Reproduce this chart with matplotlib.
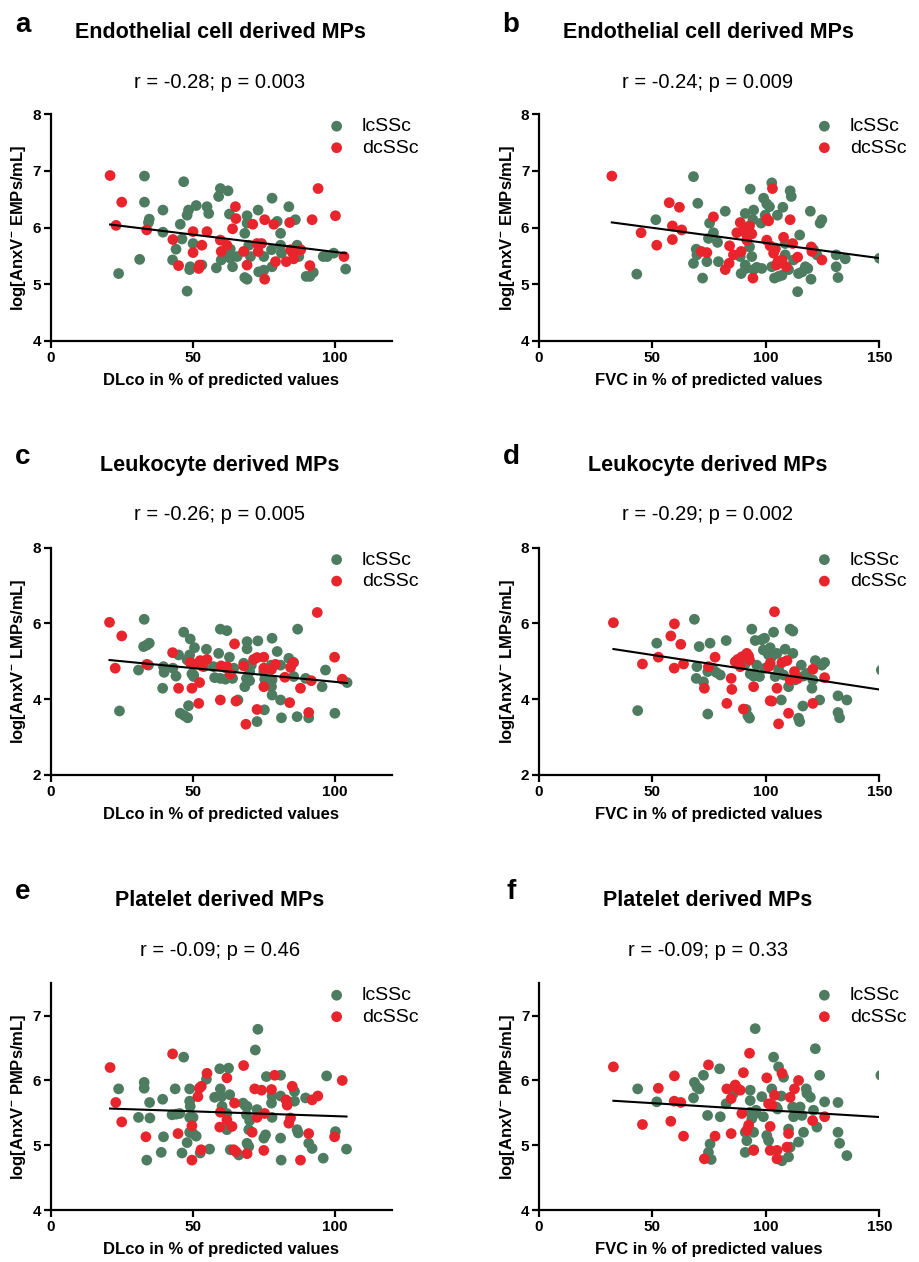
import numpy as np
import matplotlib
matplotlib.use('Agg')
import matplotlib.pyplot as plt

plt.rcParams['font.family'] = ['Liberation Sans', 'DejaVu Sans']
plt.rcParams['mathtext.fontset'] = 'custom'
plt.rcParams['mathtext.rm'] = 'Liberation Sans:bold'
plt.rcParams['mathtext.bf'] = 'Liberation Sans:bold'

GREEN = '#4e7c60'
RED = '#e8252c'

# ---- panel a: EMPs vs DLco ----
a_lc_x = [23.9, 33.0, 33.0, 31.3, 34.7, 34.4, 39.5, 39.5, 45.6, 44.1, 42.9, 46.8, 46.2, 48.0, 48.0, 48.5,
          49.1, 48.9, 50.1, 51.2, 55.0, 55.6, 53.2, 58.3, 59.1, 59.7, 62.4, 60.0, 60.9, 62.9, 63.2, 64.0,
          63.2, 65.6, 68.3, 69.1, 69.1, 68.3, 69.1, 70.3, 69.7, 73.0, 73.2, 75.0, 75.0, 77.9, 77.7, 77.9,
          79.7, 80.9, 80.9, 81.2, 83.8, 86.1, 86.7, 87.3, 89.9, 91.2, 92.4, 95.9, 97.3, 99.6, 103.8]
a_lc_y = [5.19, 6.91, 6.45, 5.44, 6.15, 6.09, 6.31, 5.92, 6.06, 5.62, 5.43, 6.81, 5.80, 4.88, 6.22, 6.31,
          5.31, 5.26, 5.72, 6.39, 6.37, 6.25, 5.34, 5.29, 6.55, 6.69, 6.65, 5.43, 5.55, 6.24, 5.62, 5.31,
          5.46, 5.49, 5.90, 6.21, 6.08, 5.12, 5.09, 5.49, 5.69, 6.31, 5.22, 5.25, 5.49, 6.52, 5.61, 5.31,
          6.11, 5.90, 5.69, 5.55, 6.37, 6.14, 5.69, 5.49, 5.14, 5.14, 5.21, 5.49, 5.49, 5.55, 5.27]
a_dc_x = [20.9, 23.0, 25.0, 33.8, 43.0, 45.0, 50.1, 50.1, 52.1, 52.4, 53.2, 55.0, 59.7, 60.0, 62.0, 64.0,
          65.0, 65.2, 67.9, 69.1, 71.1, 72.6, 73.0, 74.2, 75.3, 75.3, 78.5, 79.1, 82.9, 84.1, 84.4, 85.5,
          85.2, 88.0, 91.2, 92.0, 94.1, 100.2, 103.2]
a_dc_y = [6.92, 6.04, 6.45, 5.96, 5.79, 5.33, 5.93, 5.56, 5.28, 5.34, 5.69, 5.93, 5.78, 5.58, 5.69, 5.98,
          6.37, 6.16, 5.58, 5.34, 6.06, 5.72, 5.58, 5.72, 6.14, 5.09, 6.06, 5.40, 5.40, 6.09, 5.61, 5.45,
          5.55, 5.61, 5.33, 6.14, 6.69, 6.21, 5.49]

# ---- panel b: EMPs vs FVC ----
b_lc_x = [43.1, 51.5, 68.1, 70.0, 68.1, 69.3, 69.6, 72.1, 74.0, 74.7, 75.2, 76.9, 78.7, 79.1, 82.1, 88.7,
          89.1, 90.9, 91.2, 90.9, 91.6, 92.8, 93.1, 93.8, 94.3, 94.6, 94.6, 96.0, 98.2, 97.9, 99.0, 99.7,
          100.4, 101.6, 102.6, 102.6, 104.1, 103.8, 105.1, 105.6, 107.1, 107.5, 108.5, 108.5, 110.0, 110.7,
          111.2, 112.2, 114.4, 114.0, 114.9, 116.0, 117.4, 118.5, 119.6, 119.9, 121.0, 122.5, 123.9, 124.7,
          131.0, 131.0, 131.8, 135.0, 150.1]
b_lc_y = [5.18, 6.14, 6.90, 6.43, 5.37, 5.62, 5.52, 5.11, 5.40, 5.81, 6.08, 5.91, 5.74, 5.40, 6.29, 5.49,
          5.19, 6.25, 5.28, 5.34, 5.90, 5.66, 6.68, 5.49, 6.14, 6.31, 5.26, 5.30, 5.28, 6.08, 6.52, 6.22,
          6.42, 6.37, 6.79, 5.31, 5.64, 5.11, 6.22, 5.14, 5.16, 6.36, 5.52, 5.72, 5.26, 6.65,
          6.55, 5.43, 5.19, 4.87, 5.87, 5.22, 5.31, 5.28, 6.29, 5.09, 5.61, 5.52, 6.08, 6.14,
          5.52, 5.31, 5.12, 5.45, 5.46]
b_dc_x = [32.1, 45.0, 51.9, 57.4, 58.8, 58.8, 61.9, 62.9, 71.5, 74.0, 76.9, 82.1, 83.8, 84.0, 85.7, 87.2,
          88.7, 89.1, 90.1, 91.2, 91.6, 92.8, 94.3, 93.8, 100.4, 100.4, 101.2, 101.9, 102.9, 103.4, 104.1,
          104.6, 105.3, 107.1, 107.8, 109.0, 110.7, 111.8, 114.0, 120.0, 120.3, 124.7]
b_dc_y = [6.91, 5.91, 5.69, 6.44, 6.03, 5.79, 6.36, 5.96, 5.58, 5.56, 6.19, 5.26, 5.37, 5.68, 5.52, 5.91,
          6.09, 5.58, 5.96, 5.90, 5.78, 6.03, 5.11, 5.89, 6.15, 5.78, 6.12, 5.68, 6.69, 5.55, 5.62,
          5.34, 5.40, 5.43, 5.83, 5.31, 6.14, 5.72, 5.48, 5.66, 5.58, 5.43]

# ---- panel c: LMPs vs DLco ----
c_lc_x = [24.2, 32.9, 32.7, 33.8, 34.7, 30.9, 34.4, 39.7, 39.9, 39.4, 43.0, 44.1, 45.0, 46.8, 45.6, 47.0,
          48.2, 48.5, 48.0, 49.1, 48.9, 49.7, 50.6, 50.3, 50.3, 54.8, 53.8, 53.8, 57.3, 57.7, 59.1, 59.7,
          62.0, 61.8, 61.5, 59.7, 62.9, 64.0, 64.4, 65.9, 67.9, 68.3, 69.1, 69.1, 68.9, 70.0, 70.0, 70.6,
          72.6, 72.9, 75.0, 75.3, 75.2, 77.9, 77.6, 77.9, 77.7, 77.9, 79.7, 80.9, 80.9, 81.2, 83.8, 85.5,
          86.9, 86.7, 85.5, 89.7, 90.8, 96.7, 95.5, 100.0, 104.3]
c_lc_y = [3.69, 6.11, 5.39, 5.43, 5.48, 4.77, 4.90, 4.86, 4.71, 4.29, 4.82, 4.61, 5.17, 5.77, 3.63, 3.57,
          3.51, 3.83, 5.04, 5.59, 5.17, 4.67, 5.36, 4.64, 4.60, 5.32, 4.86, 4.99, 4.86, 4.57, 5.21, 5.85,
          5.81, 4.82, 4.53, 4.55, 5.11, 4.55, 4.82, 3.98, 4.95, 4.33, 5.52, 5.33, 4.55, 4.73, 4.49, 4.90,
          3.41, 5.54, 4.73, 4.53, 3.72, 5.61, 4.90, 4.51, 4.33, 4.11, 5.26, 4.90, 3.98, 3.51, 5.08, 4.97,
          5.85, 3.54, 4.60, 4.55, 3.51, 4.77, 4.33, 3.63, 4.44]
c_dc_x = [20.7, 25.0, 22.7, 33.8, 42.9, 45.0, 49.7, 49.1, 50.9, 52.1, 52.4, 52.6, 53.2, 55.0, 59.7, 60.0,
          62.0, 63.2, 64.7, 65.2, 67.9, 68.7, 71.4, 72.6, 72.6, 75.0, 75.0, 75.0, 77.7, 79.1, 82.4, 84.1,
          84.4, 85.3, 87.9, 90.8, 91.7, 93.8, 99.9, 102.6]
c_dc_y = [6.03, 5.67, 4.82, 4.92, 5.23, 4.29, 4.29, 4.97, 4.93, 3.89, 4.44, 5.02, 4.88, 5.05, 3.98, 4.88,
          4.86, 4.67, 5.46, 3.95, 4.88, 3.34, 5.05, 3.73, 5.10, 5.11, 4.33, 4.82, 4.79, 4.92, 4.58, 3.91,
          4.84, 4.97, 4.29, 3.65, 4.49, 6.29, 5.11, 4.53]

# ---- panel d: LMPs vs FVC ----
d_lc_x = [43.5, 51.9, 68.5, 70.6, 75.4, 69.6, 69.3, 72.5, 74.4, 74.4, 76.5, 78.1, 79.9, 82.5, 90.1, 90.9,
          91.3, 92.1, 92.8, 93.8, 93.1, 94.6, 95.3, 96.0, 97.2, 98.2, 98.9, 99.4, 99.7, 100.4, 101.2, 101.9,
          102.6, 103.4, 104.1, 104.9, 105.6, 106.8, 107.8, 108.5, 110.0, 110.7, 111.9, 111.9, 112.9, 114.4,
          114.9, 115.6, 116.3, 116.6, 118.1, 120.3, 120.7, 121.8, 123.7, 124.7, 125.9, 131.8, 131.8, 132.5,
          135.7, 150.9]
d_lc_y = [3.70, 5.48, 6.11, 5.39, 5.48, 4.86, 4.55, 4.46, 3.61, 4.73, 4.82, 4.71, 4.64, 5.55, 5.02, 4.93,
          3.73, 3.56, 3.50, 5.85, 4.67, 4.61, 5.55, 4.90, 4.60, 5.57, 5.30, 5.61, 4.82, 5.26, 5.17, 5.36,
          5.12, 5.77, 4.60, 5.21, 4.79, 3.98, 4.64, 5.32, 4.33, 5.85, 5.80, 5.21, 4.51, 3.50,
          3.41, 4.90, 3.82, 4.61, 4.68, 4.29, 4.51, 5.02, 3.98, 4.90, 4.97, 4.09, 3.65, 3.51,
          3.98, 4.77]
d_dc_x = [32.8, 45.6, 52.6, 58.1, 59.7, 59.6, 62.5, 63.7, 72.9, 74.7, 77.6, 82.8, 84.7, 85.0, 86.5, 87.6,
          88.7, 89.4, 90.1, 91.6, 92.4, 92.8, 94.6, 101.2, 101.9, 101.9, 102.6, 103.8, 104.9, 105.6, 107.1,
          109.3, 110.0, 110.7, 112.6, 114.1, 120.7, 120.7, 125.9]
d_dc_y = [6.02, 4.93, 5.11, 5.67, 5.99, 4.82, 5.45, 4.93, 4.29, 4.86, 5.11, 3.89, 4.55, 4.26, 4.99, 5.05,
          4.86, 5.12, 3.74, 5.21, 5.14, 5.04, 4.33, 4.86, 4.95, 3.96, 3.95, 6.31, 4.29, 3.35, 4.97,
          5.02, 3.63, 4.51, 4.73, 4.55, 4.79, 3.89, 4.57]

# ---- panel e: PMPs vs DLco ----
e_lc_x = [23.9, 32.9, 32.9, 30.9, 34.9, 34.8, 33.8, 39.4, 39.7, 38.9, 43.8, 42.7, 44.2, 45.4, 46.8, 46.2,
          48.0, 48.9, 48.9, 49.1, 48.9, 50.1, 48.9, 50.1, 51.2, 52.6, 54.8, 55.9, 57.7, 59.5, 59.7, 60.1,
          60.3, 62.6, 63.0, 62.0, 62.0, 63.2, 66.2, 67.7, 68.5, 68.9, 69.1, 69.7, 69.1, 69.7, 70.0, 72.0,
          72.9, 72.6, 75.0, 75.6, 75.9, 77.9, 77.7, 77.9, 80.9, 80.9, 80.9, 81.1, 83.2, 85.8, 85.8, 86.7,
          87.1, 89.7, 90.8, 92.0, 95.9, 97.1, 100.2, 104.1]
e_lc_y = [5.87, 5.97, 5.88, 5.43, 5.42, 5.66, 4.77, 5.71, 5.13, 4.89, 5.87, 5.47, 5.48, 5.49, 6.36, 4.88,
          5.04, 5.87, 5.68, 5.60, 5.43, 5.43, 5.20, 5.18, 5.14, 4.88, 6.02, 4.94, 5.74, 6.18, 5.87, 5.75,
          5.60, 6.19, 5.78, 5.49, 5.24, 4.93, 4.85, 5.65, 5.61, 5.47, 5.60, 5.24, 5.03, 4.98, 5.38, 6.47,
          6.79, 5.55, 5.11, 5.16, 6.06, 5.76, 5.65, 5.43, 6.08, 5.76, 5.11, 4.77, 5.68, 5.83, 5.68, 5.24,
          5.19, 5.73, 5.03, 4.95, 4.80, 6.07, 5.21, 4.94]
e_dc_x = [20.9, 22.9, 25.0, 33.5, 42.9, 44.8, 49.7, 49.7, 51.8, 52.3, 53.0, 52.9, 55.0, 59.7, 59.5, 62.0,
          62.0, 63.8, 64.7, 64.4, 65.2, 67.9, 69.1, 70.9, 71.8, 72.6, 74.2, 75.3, 75.0, 77.7, 78.8, 82.8,
          83.2, 83.8, 84.4, 85.0, 87.9, 90.8, 92.0, 94.0, 99.9, 102.6]
e_dc_y = [6.20, 5.66, 5.36, 5.13, 6.41, 5.18, 5.30, 4.77, 5.75, 5.88, 5.91, 4.93, 6.11, 5.51, 5.28, 6.04,
          5.39, 5.29, 5.65, 4.93, 4.90, 6.23, 4.87, 5.20, 5.87, 5.43, 5.85, 5.49, 4.92, 5.86, 6.08, 5.70,
          5.62, 5.34, 5.42, 5.91, 4.77, 5.18, 5.70, 5.76, 5.13, 6.00]

# ---- panel f: PMPs vs FVC ----
f_lc_x = [43.5, 51.9, 68.5, 68.1, 69.6, 70.6, 72.5, 74.3, 75.4, 74.7, 75.9, 79.9, 79.6, 82.5, 85.7, 90.9,
          90.9, 91.6, 93.1, 93.1, 93.1, 93.8, 94.6, 95.3, 94.6, 95.3, 95.7, 98.2, 98.9, 100.4, 101.2, 102.6,
          103.4, 104.6, 105.1, 105.6, 106.8, 107.8, 107.1, 110.0, 110.0, 110.7, 111.8, 112.2, 114.4, 115.1,
          115.9, 116.6, 117.8, 118.1, 119.6, 121.8, 121.0, 122.5, 123.7, 125.9, 131.8, 131.8, 132.5, 135.7,
          150.7]
f_lc_y = [5.87, 5.67, 5.97, 5.73, 5.90, 5.87, 6.08, 5.46, 5.02, 4.89, 4.78, 5.44, 6.18, 5.64, 5.80, 5.20,
          4.89, 5.07, 5.85, 5.69, 5.51, 5.41, 5.20, 6.80, 4.93, 5.49, 5.54, 5.75, 5.44, 5.15, 5.07, 5.87,
          6.36, 5.59, 5.56, 6.21, 5.76, 6.05, 4.76, 4.82, 5.25, 4.97, 5.59, 5.44, 5.05, 5.59,
          5.46, 5.20, 5.87, 5.80, 5.74, 6.49, 5.54, 5.28, 6.08, 5.67, 5.66, 5.20, 5.03, 4.84,
          6.08]
f_dc_x = [32.8, 45.6, 52.6, 58.1, 59.7, 59.6, 62.5, 63.7, 72.9, 74.7, 77.6, 82.8, 84.7, 84.7, 86.5, 87.6,
          88.7, 89.4, 90.1, 91.6, 92.4, 92.8, 94.6, 100.4, 101.2, 101.9, 101.9, 102.6, 103.8, 104.9, 104.9,
          107.1, 109.3, 110.0, 110.7, 112.6, 114.4, 120.6, 125.9]
f_dc_y = [6.21, 5.32, 5.88, 5.37, 6.07, 5.68, 5.66, 5.14, 4.79, 6.24, 5.14, 5.87, 5.72, 5.18, 5.93, 5.87,
          5.85, 5.49, 6.12, 5.23, 5.31, 6.42, 4.92, 6.04, 5.64, 5.29, 4.92, 5.62, 5.77, 4.92, 4.79,
          6.11, 4.97, 5.18, 5.74, 5.87, 6.00, 5.38, 5.44]

panel_letters = ['a', 'b', 'c', 'd', 'e', 'f']
titles = ['Endothelial cell derived MPs', 'Endothelial cell derived MPs',
          'Leukocyte derived MPs', 'Leukocyte derived MPs',
          'Platelet derived MPs', 'Platelet derived MPs']
stats = ['r = -0.28; p = 0.003', 'r = -0.24; p = 0.009',
         'r = -0.26; p = 0.005', 'r = -0.29; p = 0.002',
         'r = -0.09; p = 0.46', 'r = -0.09; p = 0.33']
xlabels = ['DLco in % of predicted values', 'FVC in % of predicted values'] * 3
ylabels = [r'log[AnxV$^{-}$ EMPs/mL]'] * 2 + [r'log[AnxV$^{-}$ LMPs/mL]'] * 2 + \
          [r'log[AnxV$^{-}$ PMPs/mL]'] * 2
xlims = [(0, 120), (0, 150)] * 3
xticks = [[0, 50, 100], [0, 50, 100, 150]] * 3
ylims = [(4, 8), (4, 8), (2, 8), (2, 8), (4, 7.5), (4, 7.5)]
yticks = [[4, 5, 6, 7, 8], [4, 5, 6, 7, 8], [2, 4, 6, 8], [2, 4, 6, 8], [4, 5, 6, 7], [4, 5, 6, 7]]

data = [(a_lc_x, a_lc_y, a_dc_x, a_dc_y), (b_lc_x, b_lc_y, b_dc_x, b_dc_y),
        (c_lc_x, c_lc_y, c_dc_x, c_dc_y), (d_lc_x, d_lc_y, d_dc_x, d_dc_y),
        (e_lc_x, e_lc_y, e_dc_x, e_dc_y), (f_lc_x, f_lc_y, f_dc_x, f_dc_y)]

W, H = 919, 1262
fig = plt.figure(figsize=(W / 100, H / 100), dpi=100)

# axes boxes in pixels: left, top, right, bottom
col_x = [(50.7, 391.7), (539.0, 879.3)]
row_y = [(114.3, 341.0), (547.7, 775.0), (983.3, 1210.0)]
title_y = [33, 465, 900]
stat_y = [82, 515, 950]
col_cx = [220, 708]
letter_x = [23, 511]

for i in range(6):
    r, c = divmod(i, 2)
    x0, x1 = col_x[c]
    y0, y1 = row_y[r]
    ax = fig.add_axes([x0 / W, 1 - y1 / H, (x1 - x0) / W, (y1 - y0) / H])
    lx, ly, dx, dy = data[i]
    ax.scatter(lx, ly, s=60, color=GREEN, edgecolors='none', label='lcSSc', zorder=3)
    ax.scatter(dx, dy, s=60, color=RED, edgecolors='none', label='dcSSc', zorder=3)
    allx = np.array(lx + dx)
    ally = np.array(ly + dy)
    k, b = np.polyfit(allx, ally, 1)
    xx = np.array([allx.min(), allx.max()])
    ax.plot(xx, k * xx + b, color='black', lw=1.5, zorder=4)

    ax.set_xlim(*xlims[i])
    ax.set_ylim(*ylims[i])
    ax.set_xticks(xticks[i])
    ax.set_yticks(yticks[i])
    for s in ['top', 'right']:
        ax.spines[s].set_visible(False)
    for s in ['left', 'bottom']:
        ax.spines[s].set_linewidth(1.6)
    ax.tick_params(width=1.6, length=5, labelsize=11, pad=2)
    for t in ax.get_xticklabels() + ax.get_yticklabels():
        t.set_fontweight('bold')
    ax.set_xlabel(xlabels[i], fontsize=12, fontweight='bold', labelpad=6)
    ax.set_ylabel(ylabels[i], fontsize=12, fontweight='bold', labelpad=3)
    ax.legend(loc='upper left', frameon=False, fontsize=14, handlelength=1.0,
              handletextpad=0.8, borderpad=0, borderaxespad=0, labelspacing=0.2,
              bbox_to_anchor=(0.81, 0.985))

    fig.text(col_cx[c] / W, 1 - title_y[r] / H, titles[i], ha='center', va='center',
             fontsize=15.5, fontweight='bold')
    fig.text(col_cx[c] / W, 1 - stat_y[r] / H, stats[i], ha='center', va='center',
             fontsize=14.5)
    fig.text(letter_x[c] / W, 1 - (title_y[r] - 8) / H, panel_letters[i], ha='center', va='center',
             fontsize=20, fontweight='bold')

fig.savefig('out.png', dpi=100)
